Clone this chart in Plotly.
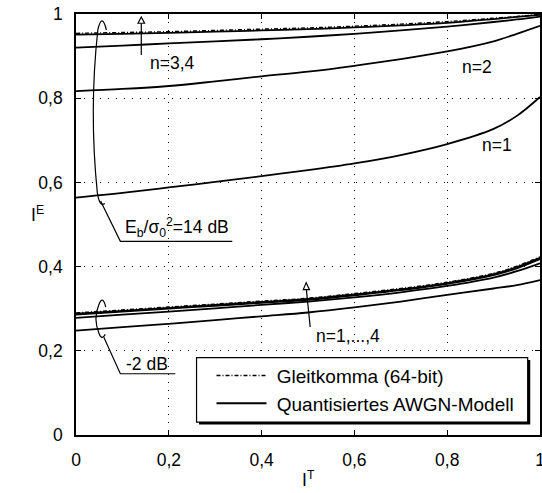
import plotly.graph_objects as go

# ---------------- data ----------------
i_t = [0.0, 0.1, 0.2, 0.3, 0.4, 0.5, 0.6, 0.7, 0.8, 0.9, 0.95, 1.0]

# Eb/sigma0^2 = 14 dB
hi_float = [0.954, 0.956, 0.958, 0.961, 0.964, 0.967, 0.971, 0.976, 0.982, 0.990, 0.994, 0.999]
hi_n4 = [0.951, 0.953, 0.955, 0.958, 0.961, 0.964, 0.968, 0.973, 0.979, 0.988, 0.993, 0.998]
hi_n3 = [0.920, 0.925, 0.930, 0.935, 0.940, 0.946, 0.953, 0.961, 0.970, 0.981, 0.987, 0.994]
hi_n2 = [0.817, 0.822, 0.829, 0.840, 0.852, 0.863, 0.877, 0.893, 0.911, 0.935, 0.953, 0.972]
hi_n1 = [0.564, 0.575, 0.588, 0.601, 0.615, 0.629, 0.645, 0.665, 0.691, 0.727, 0.758, 0.803]

# Eb/sigma0^2 = -2 dB
lo_float = [0.290, 0.297, 0.304, 0.311, 0.318, 0.325, 0.336, 0.348, 0.363, 0.384, 0.401, 0.423]
lo_n4 = [0.288, 0.295, 0.302, 0.309, 0.316, 0.323, 0.334, 0.346, 0.361, 0.382, 0.399, 0.421]
lo_n3 = [0.286, 0.293, 0.300, 0.307, 0.314, 0.321, 0.332, 0.344, 0.359, 0.380, 0.396, 0.418]
lo_n2 = [0.278, 0.286, 0.293, 0.301, 0.309, 0.317, 0.327, 0.339, 0.354, 0.374, 0.389, 0.408]
lo_n1 = [0.248, 0.256, 0.264, 0.273, 0.282, 0.291, 0.303, 0.317, 0.333, 0.348, 0.356, 0.368]

tick_vals = [0, 0.2, 0.4, 0.6, 0.8, 1]
tick_text = ["0", "0,2", "0,4", "0,6", "0,8", "1"]

legend_names = ["\u00a0Gleitkomma (64-bit)", "\u00a0Quantisiertes AWGN-Modell"]

# ---------------- figure ----------------
FONT = "Liberation Sans, Arial, Helvetica, sans-serif"
FS = 17.5
fig = go.Figure()

dashdot = "4px,2px,1px,2px"
for k, ys in enumerate([hi_float, lo_float]):
    fig.add_trace(go.Scatter(
        x=i_t, y=ys, mode="lines", line=dict(color="black", width=1.4, dash=dashdot),
        line_shape="spline", name=legend_names[0], legendgroup="f", showlegend=(k == 0)))

for k, ys in enumerate([hi_n1, hi_n2, hi_n3, hi_n4, lo_n1, lo_n2, lo_n3, lo_n4]):
    fig.add_trace(go.Scatter(
        x=i_t, y=ys, mode="lines", line=dict(color="black", width=1.8),
        line_shape="spline", name=legend_names[1], legendgroup="q", showlegend=(k == 0)))

axis_common = dict(
    range=[0, 1], tickvals=tick_vals, ticktext=tick_text,
    showline=True, linecolor="black", linewidth=1.6, mirror="ticks",
    ticks="inside", ticklen=5, tickwidth=1.4, tickcolor="black",
    showgrid=True, gridcolor="black", gridwidth=1, griddash="1px,7px",
    zeroline=False, automargin=False, ticklabeloverflow="allow",
    tickfont=dict(family=FONT, size=FS, color="black"),
)
fig.update_xaxes(**axis_common, ticklabelstandoff=8)
fig.update_yaxes(**axis_common, ticklabelstandoff=8)

line_k = dict(color="black", width=1.2)
shapes = []
# legend box with drop shadow
shapes.append(dict(type="rect", xref="x", yref="y", x0=0.265, x1=0.979, y0=0.025, y1=0.178,
                   fillcolor="black", line=dict(width=0), layer="above"))
shapes.append(dict(type="rect", xref="x", yref="y", x0=0.2598, x1=0.9735, y0=0.0307, y1=0.1838,
                   fillcolor="white", line=dict(color="black", width=1.2), layer="above"))
# 14 dB bracket
shapes.append(dict(type="path", xref="x", yref="y", layer="above", line=line_k,
                   path="M 0.0655,0.962 Q 0.056,1.005 0.047,0.962 Q 0.028,0.77 0.046,0.575 Q 0.051,0.540 0.062,0.550"))
shapes.append(dict(type="path", xref="x", yref="y", layer="above", line=line_k,
                   path="M 0.053,0.556 L 0.0956,0.460 L 0.3368,0.460"))
# -2 dB bracket
shapes.append(dict(type="path", xref="x", yref="y", layer="above", line=line_k,
                   path="M 0.064,0.304 Q 0.058,0.332 0.050,0.312 Q 0.036,0.277 0.050,0.240 Q 0.056,0.224 0.063,0.239"))
shapes.append(dict(type="path", xref="x", yref="y", layer="above", line=line_k,
                   path="M 0.060,0.232 L 0.0956,0.1455 L 0.214,0.1455"))
# arrow n=3,4
shapes.append(dict(type="line", xref="x", yref="y", x0=0.1407, x1=0.1407, y0=0.9025, y1=0.978,
                   line=line_k, layer="above"))
shapes.append(dict(type="path", xref="x", yref="y", layer="above", line=line_k, fillcolor="white",
                   path="M 0.1336,0.978 L 0.1407,0.993 L 0.1478,0.978 Z"))
# arrow n=1,...,4
shapes.append(dict(type="line", xref="x", yref="y", x0=0.5047, x1=0.4965, y0=0.2564, y1=0.3453,
                   line=line_k, layer="above"))
shapes.append(dict(type="path", xref="x", yref="y", layer="above", line=line_k, fillcolor="white",
                   path="M 0.4898,0.3453 L 0.4961,0.3619 L 0.5032,0.3453 Z"))

ann_font = dict(family=FONT, size=FS, color="black")
annotations = [
    dict(x=0.2076, y=0.8835, text="n=3,4"),
    dict(x=0.864, y=0.874, text="n=2"),
    dict(x=0.907, y=0.688, text="n=1"),
    dict(x=0.218, y=0.4935, text="E<sub>b</sub>/σ<sub>0</sub><sup>2</sup>=14 dB"),
    dict(x=0.154, y=0.1695, text="-2 dB"),
    dict(x=0.5866, y=0.2342, text="n=1,...,4"),
]
for a in annotations:
    a.update(xref="x", yref="y", showarrow=False, font=ann_font, xanchor="center", yanchor="middle")
annotations.append(dict(xref="paper", yref="paper", x=-0.082, y=0.525, text="I<sup>E</sup>",
                        showarrow=False, font=ann_font, xanchor="center", yanchor="middle"))
annotations.append(dict(xref="paper", yref="paper", x=0.5, y=-0.104, text="I<sup>T</sup>",
                        showarrow=False, font=ann_font, xanchor="center", yanchor="middle"))

fig.update_layout(
    width=542, height=493,
    margin=dict(l=76, r=2, t=14, b=58),
    paper_bgcolor="white", plot_bgcolor="white",
    font=dict(family=FONT, size=FS, color="black"),
    shapes=shapes, annotations=annotations,
    showlegend=True,
    legend=dict(x=0.292, y=0.186, xanchor="left", yanchor="top",
                bgcolor="rgba(0,0,0,0)", borderwidth=0, tracegroupgap=0,
                itemwidth=50, font=dict(family=FONT, size=19, color="black")),
)

fig.write_html("out.html")
